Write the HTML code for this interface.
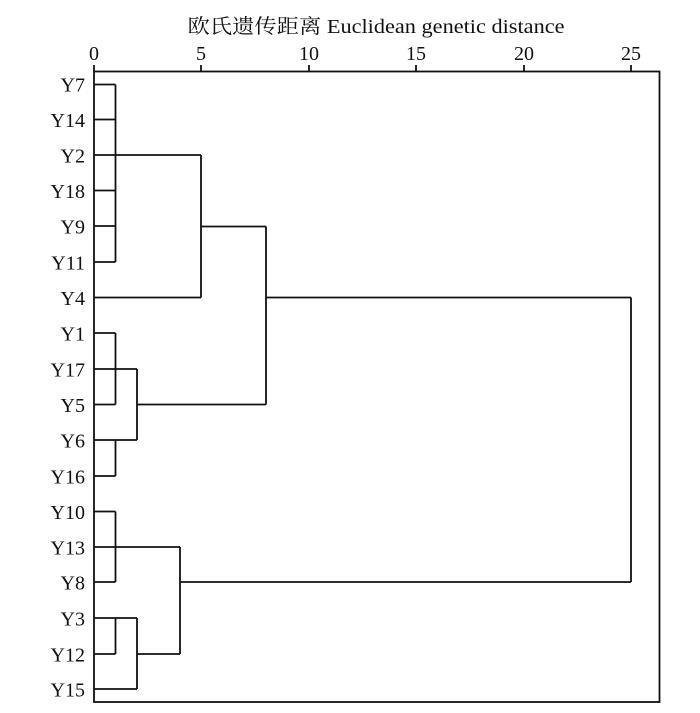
<!DOCTYPE html>
<html><head><meta charset="utf-8"><style>
html,body{margin:0;padding:0;background:#fff;}
svg{display:block;}
text{font-family:"Liberation Serif","Noto Serif CJK SC",serif;font-size:20px;fill:#111;}
</style></head><body>
<svg width="700" height="713" viewBox="0 0 700 713" xmlns="http://www.w3.org/2000/svg">
<text x="376" y="33" text-anchor="middle" textLength="377" lengthAdjust="spacingAndGlyphs">欧氏遗传距离 Euclidean genetic distance</text>
<g text-anchor="middle">
<text x="94" y="60">0</text><text x="201" y="60">5</text><text x="309" y="60">10</text>
<text x="416" y="60">15</text><text x="524" y="60">20</text><text x="631" y="60">25</text>
</g>
<g stroke="#111" stroke-width="1.8" fill="none">
<rect x="94" y="71.5" width="565.5" height="630.5"/>
<path d="M94 65V71.5M201 65V71.5M309 65V71.5M416 65V71.5M524 65V71.5M631 65V71.5"/>
<path d="M94 84.5H115.5M94 119.5H115.5M94 190.5H115.5M94 226H115.5M94 262H115.5M115.5 84.5V262M94 155H201M94 297.5H201M201 155V297.5M201 226.5H266"/>
<path d="M94 333H115.5M94 404.5H115.5M115.5 333V404.5M94 369H137M94 440H137M94 476H115.5M115.5 440V476M137 369V440M137 404.5H266M266 226.5V404.5"/>
<path d="M266 297.5H631M631 297.5V582"/>
<path d="M94 511.5H115.5M94 582H115.5M115.5 511.5V582M94 547H180M180 547V654M180 582H631"/>
<path d="M94 618H137M94 654H115.5M115.5 618V654M94 689H137M137 618V689M137 654H180"/>
</g>
<g text-anchor="end">
<text x="85" y="91.5">Y7</text><text x="85" y="127">Y14</text><text x="85" y="162.5">Y2</text>
<text x="85" y="198">Y18</text><text x="85" y="233.5">Y9</text><text x="85" y="269.5">Y11</text>
<text x="85" y="305">Y4</text><text x="85" y="340.5">Y1</text><text x="85" y="376.5">Y17</text>
<text x="85" y="412">Y5</text><text x="85" y="447.5">Y6</text><text x="85" y="483.5">Y16</text>
<text x="85" y="519">Y10</text><text x="85" y="554.5">Y13</text><text x="85" y="589.5">Y8</text>
<text x="85" y="625.5">Y3</text><text x="85" y="661.5">Y12</text><text x="85" y="696.5">Y15</text>
</g>
</svg>
</body></html>
